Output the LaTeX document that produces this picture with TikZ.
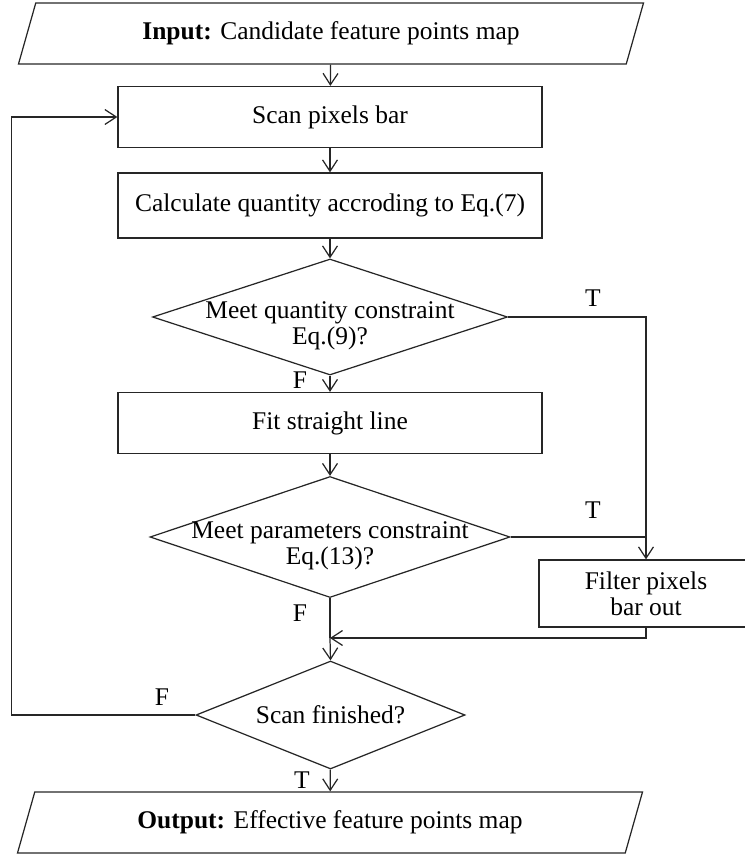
\documentclass[tikz,border=0pt]{standalone}
\usepackage{fontspec}
\setmainfont{Liberation Serif}
\usepackage{tikz}
\usetikzlibrary{shapes.geometric, arrows.meta, positioning, calc}

\newcommand{\ctr}[1]{\makebox[0pt]{#1}}

\begin{document}
\begin{tikzpicture}[
  font=\fontsize{14.5}{14.7}\selectfont,
  line width=0.7pt, draw=black!85,
  >={Straight Barb[length=6.5pt,width=8.5pt]},
  process/.style={draw, rectangle, minimum width=8.48cm, minimum height=1.22cm},
  decision/.style={draw, diamond, inner sep=0pt, align=center},
  twoline/.style={text height=1.2cm},
  io/.style={draw, trapezium, trapezium left angle=63.8, trapezium right angle=116.2,
    trapezium stretches body, minimum width=12.5cm, minimum height=1.22cm},
  lbl/.style={inner sep=0pt}
]
\useasboundingbox (0,0) rectangle (14.9,-17.08);

% Flow chart
\node[io] (input) at (6.62,-0.67) {\textbf{Input:} Candidate feature points map};
\node[process] (scan) at (6.6,-2.34) {Scan pixels bar};
\node[process, minimum height=1.3cm] (calc) at (6.6,-4.11) {Calculate quantity accroding to Eq.(7)};
\node[decision, twoline, minimum width=7.1cm, minimum height=2.32cm] (quant) at (6.6,-6.34)
  {\ctr{Meet quantity constraint}\\\ctr{Eq.(9)?}};
\node[process] (fit) at (6.6,-8.46) {Fit straight line};
\node[decision, twoline, minimum width=7.2cm, minimum height=2.42cm] (param) at (6.6,-10.74)
  {\ctr{Meet parameters constraint}\\\ctr{Eq.(13)?}};
\node[draw, rectangle, align=center, minimum width=4.28cm, minimum height=1.34cm] (filter) at (12.92,-11.87)
  {Filter pixels\\bar out};
\node[decision, minimum width=5.38cm, minimum height=2.16cm] (done) at (6.61,-14.3) {\ctr{Scan finished?}};
\node[io] (output) at (6.6,-16.45) {\textbf{Output:} Effective feature points map};
\coordinate (merge) at (6.6,-12.76);

\draw[->] (input) -- (scan);
\draw[->] (scan) -- (calc);
\draw[->] (calc) -- (quant);
\draw[->] (quant) -- (fit);
\draw[->] (fit) -- (param);
\draw[->] (quant.east) -| (filter.north);
\draw (param.east) -- (param.east -| filter.north);
\draw (param.south) -- (merge);
\draw[->] (filter.south) |- (merge);
\draw[->] (merge) -- (done.north);
\draw[->] (done.west) -- ++(-3.68,0) |- (scan.west);
\draw[->] (done) -- (output);

% Labels
\node[lbl] (t1) at (11.86,-5.96) {T};
\node[lbl] (f1) at (6.0,-7.6) {F};
\node[lbl] (t2) at (11.86,-10.2) {T};
\node[lbl] (f2) at (6.0,-12.26) {F};
\node[lbl] (f3) at (3.24,-13.94) {F};
\node[lbl] (t3) at (6.04,-15.6) {T};
\end{tikzpicture}
\end{document}
